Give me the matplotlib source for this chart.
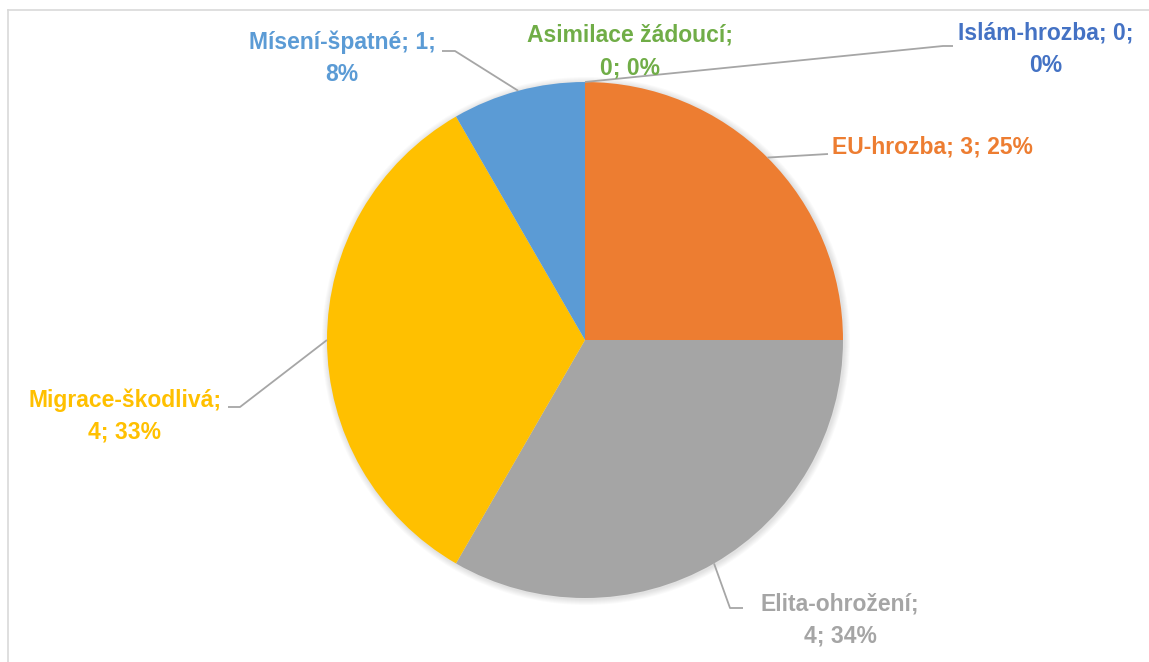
import numpy as np
import matplotlib
matplotlib.use("Agg")
import matplotlib.pyplot as plt
from matplotlib.lines import Line2D
from matplotlib.patches import Circle

categories = ["Islám-hrozba", "EU-hrozba", "Elita-ohrožení", "Migrace-škodlivá", "Mísení-špatné", "Asimilace žádoucí"]
values = [0, 3, 4, 4, 1, 0]
pct_labels = ["0%", "25%", "34%", "33%", "8%", "0%"]
colors = ["#4472C4", "#ED7D31", "#A5A5A5", "#FFC000", "#5B9BD5", "#70AD47"]

W, H = 1149, 662
fig = plt.figure(figsize=(W / 100, H / 100), dpi=100)
ax = fig.add_axes([0, 0, 1, 1])

cx, cy, R = 585, H - 340, 258

# soft shadow around the pie
for k in range(1, 7):
    ax.add_patch(Circle((cx + 1, cy - 1), R + k, facecolor="#000000", alpha=0.018, lw=0, zorder=0))

ax.pie(values, colors=colors, startangle=90, counterclock=False,
       center=(cx, cy), radius=R, wedgeprops=dict(linewidth=0, zorder=1), frame=True)
ax.set_xlim(0, W)
ax.set_ylim(0, H)
ax.set_aspect("equal")
ax.axis("off")

# chart area border
fig.add_artist(Line2D([8 / W, 1], [1 - 10 / H, 1 - 10 / H], transform=fig.transFigure, color="#D9D9D9", lw=1.2))
fig.add_artist(Line2D([8 / W, 8 / W], [0, 1 - 10 / H], transform=fig.transFigure, color="#D9D9D9", lw=1.2))

total = sum(values)
cum = np.cumsum([0] + values)
mid_angles = [90 - 360 * (cum[i] + values[i] / 2) / total for i in range(len(values))]

def edge(i):
    a = np.deg2rad(mid_angles[i])
    return cx + R * np.cos(a), cy + R * np.sin(a)

layout = {
    0: dict(lines=["{}; {};", "{}"], x=1046, y=33, ha="center", elbow=[(943, 46), (953, 46)]),
    1: dict(lines=["{}; {}; {}"], x=832, y=147, ha="left", elbow=[(828, 154)]),
    2: dict(lines=["{};", "{}; {}"], x=840, y=604, ha="center", elbow=[(730, 608), (743, 608)]),
    3: dict(lines=["{};", "{}; {}"], x=125, y=400, ha="center", elbow=[(240, 407), (228, 407)]),
    4: dict(lines=["{}; {};", "{}"], x=342, y=42, ha="center", elbow=[(455, 51), (442, 51)]),
    5: dict(lines=["{};", "{}; {}"], x=630, y=35, ha="center", elbow=None),
}

def fmt_lines(i, lines):
    parts = [categories[i], str(values[i]), pct_labels[i]]
    out = []
    k = 0
    for ln in lines:
        n = ln.count("{}")
        out.append(ln.format(*parts[k:k + n]))
        k += n
    return out

for i, lay in layout.items():
    n = len(lay["lines"])
    ylines = [lay["y"] + 32.5 * k for k in range(n)]
    for ln, yy in zip(fmt_lines(i, lay["lines"]), ylines):
        ax.text(lay["x"], H - yy, ln, ha=lay["ha"], va="center", color=colors[i],
                fontsize=16.5, fontweight="bold", family="Liberation Sans")
    if lay["elbow"]:
        ex, ey = edge(i)
        xs = [ex] + [p[0] for p in lay["elbow"]]
        ys = [ey] + [H - p[1] for p in lay["elbow"]]
        ax.plot(xs, ys, color="#A6A6A6", lw=1.3, solid_capstyle="butt", zorder=2)

fig.savefig("out.png", dpi=100, facecolor="white")
